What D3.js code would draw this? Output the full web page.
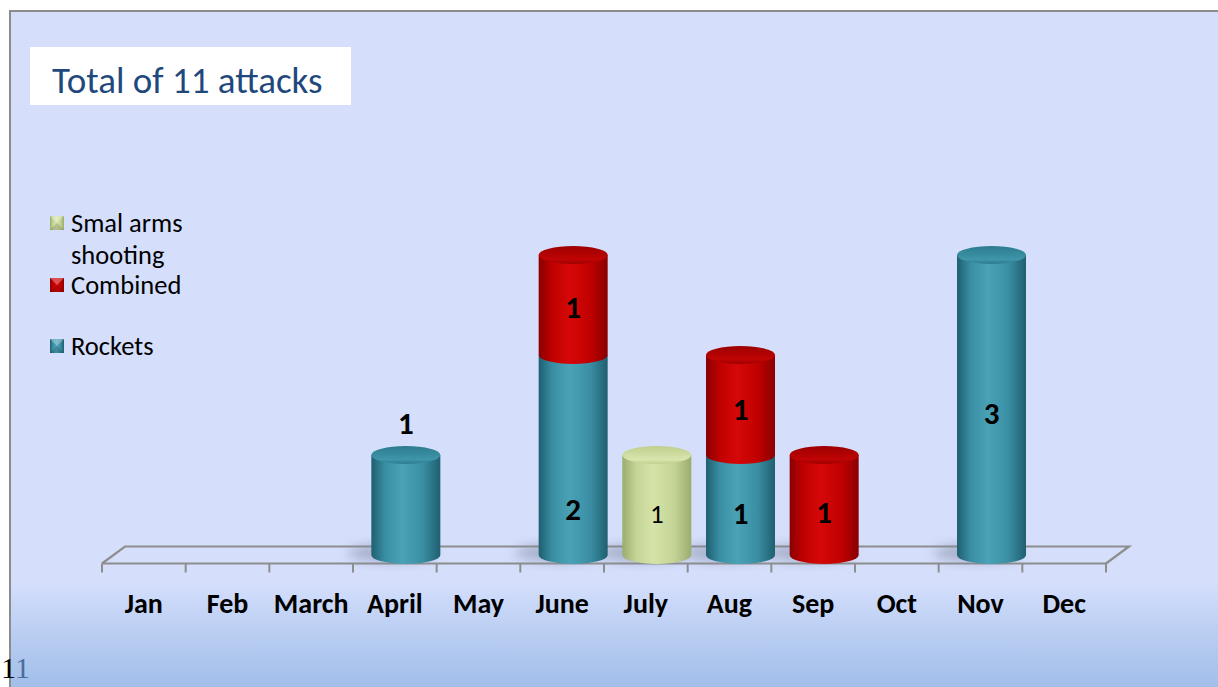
<!DOCTYPE html>
<html><head><meta charset="utf-8">
<script src="https://cdn.jsdelivr.net/npm/d3@7"></script>
<style>html,body{margin:0;padding:0;background:#fff;overflow:hidden}</style>
</head><body>
<script>
const months = ["Jan","Feb","March","April","May","June","July","Aug","Sep","Oct","Nov","Dec"];
const rockets = [0,0,0,1,0,2,0,1,0,0,3,0];
const combined = [0,0,0,0,0,1,0,1,1,0,0,0];
const smallArms = [0,0,0,0,0,0,1,0,0,0,0,0];
// label anchors (in data units)
const rocketsLabelAt = [0,0,0,1.32,0,0.46,0,0.42,0,0,1.42,0];
const combinedLabelAt = [0,0,0,0,0,2.48,0,1.46,0.43,0,0,0];
const smallArmsLabelAt = [0,0,0,0,0,0,0.42,0,0,0,0,0];
const legendLabels = [["Smal arms","shooting"],["Combined"],["Rockets"]];
const titleText = "Total of 11 attacks";

const W = 1218, H = 687;
const svg = d3.select("body").append("svg").attr("width", W).attr("height", H);
const defs = svg.append("defs");
const FONT = "Carlito, 'Open Sans', Lato, sans-serif";

// background
const bg = defs.append("linearGradient").attr("id","bg").attr("x1",0).attr("y1",0).attr("x2",0).attr("y2",1);
[[0,"#d5dffc"],[0.83,"#d5dffc"],[0.9,"#bccff3"],[1,"#9cbbe7"]].forEach(s=>bg.append("stop").attr("offset",s[0]).attr("stop-color",s[1]));
svg.append("rect").attr("x",10).attr("y",11).attr("width",W).attr("height",H).attr("fill","url(#bg)")
  .attr("stroke","#8c8c8c").attr("stroke-width",2);

function bodyGrad(id, dark, mid, light){
  const g = defs.append("linearGradient").attr("id",id).attr("x1",0).attr("x2",1).attr("y1",0).attr("y2",0);
  [[0,dark],[0.2,mid],[0.45,light],[0.75,mid],[1,dark]].forEach(s=>g.append("stop").attr("offset",s[0]).attr("stop-color",s[1]));
}
function topGrad(id, c1, c2){
  const g = defs.append("linearGradient").attr("id",id).attr("x1",0).attr("x2",0).attr("y1",0).attr("y2",1);
  [[0,c1],[0.75,c2],[1,c1]].forEach(s=>g.append("stop").attr("offset",s[0]).attr("stop-color",s[1]));
}
bodyGrad("gR","#1f5f70","#3a8ea3","#4aa2b6");
bodyGrad("gC","#8a0000","#c00000","#d60808");
bodyGrad("gS","#9aac6e","#c4d496","#d5e3a8");
topGrad("tR","#2c7b8e","#3f95a9");
topGrad("tC","#9c0000","#c00404");
topGrad("tS","#bfcf8c","#d8e5ad");
const blur = defs.append("filter").attr("id","blur").attr("x","-50%").attr("y","-50%").attr("width","200%").attr("height","200%");
blur.append("feGaussianBlur").attr("stdDeviation",6);

const x = d3.scaleBand().domain(months).range([102,1106]);
const y = d3.scaleLinear().domain([0,3]).range([555,255]);
const depth = {dx:23, dy:-17};
const off = 11;
const bw = 69, rx = bw/2, ry = 9;

// floor
const floorY = y(0)+8.5;
const x0 = x.range()[0], x1 = x.range()[1];
svg.append("path")
  .attr("d",`M${x0},${floorY} L${x0+depth.dx},${floorY+depth.dy} L${x1+depth.dx},${floorY+depth.dy} L${x1},${floorY}`)
  .attr("fill","none").attr("stroke","#8e8e8e").attr("stroke-width",2.2);
svg.append("line").attr("x1",x0).attr("x2",x1).attr("y1",floorY).attr("y2",floorY).attr("stroke","#8e8e8e").attr("stroke-width",2.2);
const ticks = months.map(m=>x(m)).concat([x1]);
svg.selectAll("line.tk").data(ticks).join("line").attr("class","tk")
  .attr("x1",d=>d).attr("x2",d=>d).attr("y1",floorY).attr("y2",floorY+9)
  .attr("stroke","#8e8e8e").attr("stroke-width",2);

// month labels
svg.selectAll("text.m").data(months).join("text").attr("class","m")
  .attr("x",d=>x(d)+x.bandwidth()/2).attr("y",613)
  .attr("text-anchor","middle").attr("font-family",FONT)
  .attr("font-weight","bold").attr("font-size",28).attr("fill","#000").text(d=>d);

// stacks
const series = [
  {vals:rockets, body:"gR", top:"tR", labels:rocketsLabelAt, bold:true},
  {vals:combined, body:"gC", top:"tC", labels:combinedLabelAt, bold:true},
  {vals:smallArms, body:"gS", top:"tS", labels:smallArmsLabelAt, bold:false}
];
const stacked = months.map((m,i)=>{
  let base=0; const segs=[];
  series.forEach((s,si)=>{ const v=s.vals[i]; if(v>0){segs.push({m,i,si,b:base,t:base+v,v,s}); base+=v;} });
  return {m,i,segs,total:base};
});
// shadows
svg.selectAll("ellipse.sh").data(stacked.filter(d=>d.total>0)).join("ellipse").attr("class","sh")
  .attr("cx",d=>x(d.m)+x.bandwidth()/2+off-14).attr("cy",y(0)-2)
  .attr("rx",44).attr("ry",9).attr("fill","#7f879f").attr("opacity",0.55).attr("filter","url(#blur)");

const g = svg.append("g");
stacked.forEach(st=>{
  const cx = x(st.m)+x.bandwidth()/2+off;
  st.segs.forEach((sg,k)=>{
    const yb=y(sg.b), yt=y(sg.t);
    g.append("path")
      .attr("d",`M${cx-rx},${yt} L${cx-rx},${yb} A${rx},${ry} 0 0 0 ${cx+rx},${yb} L${cx+rx},${yt} Z`)
      .attr("fill",`url(#${sg.s.body})`);
    if(k===st.segs.length-1){
      g.append("ellipse").attr("cx",cx).attr("cy",yt).attr("rx",rx).attr("ry",ry)
        .attr("fill",`url(#${sg.s.top})`);
    }
  });
});
// labels
stacked.forEach(st=>{
  const cx = x(st.m)+x.bandwidth()/2+off;
  st.segs.forEach(sg=>{
    g.append("text").attr("x",cx).attr("y",y(sg.s.labels[sg.i]))
      .attr("text-anchor","middle").attr("dominant-baseline","central")
      .attr("font-family",FONT)
      .attr("font-weight",sg.s.bold?"bold":"normal").attr("font-size",sg.s.bold?31:27).attr("fill","#000").text(sg.v);
  });
});

// title
svg.append("rect").attr("x",30).attr("y",47).attr("width",321).attr("height",58).attr("fill","#fff");
svg.append("text").attr("x",52).attr("y",93).attr("font-family",FONT)
  .attr("font-size",37).attr("fill","#1f497d").text(titleText);

// legend
const legFills = ["gS","gC","gR"];
const legY = [223,285,346];
const lg = svg.append("g");
legendLabels.forEach((lines,i)=>{
  lg.append("rect").attr("x",50).attr("y",legY[i]-7).attr("width",14).attr("height",14)
    .attr("fill",`url(#${legFills[i]})`);
  lg.append("path").attr("d",`M50,${legY[i]-7} L57,${legY[i]} L64,${legY[i]-7} Z`).attr("fill","#fff").attr("opacity",0.3);
  lg.append("path").attr("d",`M50,${legY[i]+7} L57,${legY[i]} L64,${legY[i]+7} Z`).attr("fill","#000").attr("opacity",0.15);
  lines.forEach((t,j)=>{
    lg.append("text").attr("x",71).attr("y",legY[i]+j*32).attr("dominant-baseline","central")
      .attr("font-family",FONT).attr("font-size",26.5).attr("fill","#000").text(t);
  });
});

// page number
svg.append("rect").attr("x",0).attr("y",0).attr("width",9).attr("height",H).attr("fill","#fff");
svg.append("text").attr("x",1).attr("y",678).attr("font-family","'Liberation Serif', serif").attr("font-size",30).attr("fill","#000").text("1");
svg.append("text").attr("x",15).attr("y",678).attr("font-family","'Liberation Serif', serif").attr("font-size",30).attr("fill","#4a6d9c").text("1");
</script>
</body></html>
